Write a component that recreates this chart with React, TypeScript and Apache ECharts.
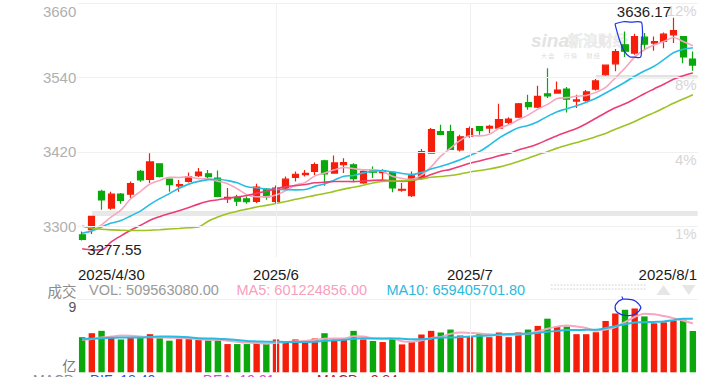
import React, { useEffect, useRef } from 'react';
import * as echarts from 'echarts';

const dates = ['2025/4/30','2025/5/6','2025/5/7','2025/5/8','2025/5/9','2025/5/12','2025/5/13','2025/5/14','2025/5/15','2025/5/16','2025/5/19','2025/5/20','2025/5/21','2025/5/22','2025/5/23','2025/5/26','2025/5/27','2025/5/28','2025/5/29','2025/5/30','2025/6/3','2025/6/4','2025/6/5','2025/6/6','2025/6/9','2025/6/10','2025/6/11','2025/6/12','2025/6/13','2025/6/16','2025/6/17','2025/6/18','2025/6/19','2025/6/20','2025/6/23','2025/6/24','2025/6/25','2025/6/26','2025/6/27','2025/6/30','2025/7/1','2025/7/2','2025/7/3','2025/7/4','2025/7/7','2025/7/8','2025/7/9','2025/7/10','2025/7/11','2025/7/14','2025/7/15','2025/7/16','2025/7/17','2025/7/18','2025/7/21','2025/7/22','2025/7/23','2025/7/24','2025/7/25','2025/7/28','2025/7/29','2025/7/30','2025/7/31','2025/8/1'];

const opens = [3286.6, 3294.7, 3356.4, 3329.6, 3352.2, 3352.0, 3388.6, 3376.0, 3401.0, 3376.4, 3365.5, 3372.5, 3381.7, 3384.9, 3378.0, 3344.5, 3347.3, 3344.6, 3340.3, 3360.2, 3340.3, 3361.9, 3379.0, 3383.6, 3388.6, 3405.8, 3386.0, 3399.4, 3399.4, 3370.0, 3389.5, 3386.8, 3387.0, 3358.5, 3349.5, 3378.0, 3418.2, 3453.0, 3453.0, 3423.5, 3445.0, 3461.0, 3458.5, 3458.5, 3467.5, 3476.2, 3499.7, 3492.3, 3513.8, 3514.9, 3521.3, 3502.0, 3503.0, 3521.3, 3544.4, 3562.0, 3592.7, 3579.3, 3605.0, 3595.4, 3598.0, 3608.8, 3606.0, 3569.6];
const closes = [3279.0, 3316.1, 3342.7, 3352.0, 3342.0, 3369.2, 3374.9, 3404.0, 3380.8, 3367.5, 3367.6, 3380.5, 3387.6, 3380.2, 3348.4, 3346.8, 3340.7, 3339.9, 3363.5, 3347.5, 3362.0, 3376.2, 3384.1, 3385.4, 3399.8, 3384.8, 3402.3, 3402.7, 3377.0, 3388.8, 3387.4, 3388.8, 3362.1, 3359.9, 3381.6, 3420.6, 3456.0, 3448.5, 3424.2, 3444.4, 3457.8, 3454.8, 3461.2, 3472.3, 3473.1, 3497.5, 3493.1, 3509.7, 3510.2, 3519.7, 3505.0, 3503.8, 3516.8, 3534.5, 3559.8, 3581.9, 3582.3, 3605.7, 3593.7, 3597.9, 3609.7, 3615.7, 3573.2, 3560.0];
const lows = [3277.55, 3288.0, 3327.0, 3327.0, 3336.6, 3346.0, 3372.0, 3370.0, 3379.0, 3356.0, 3356.0, 3371.0, 3379.6, 3378.0, 3347.0, 3337.7, 3333.0, 3336.6, 3337.7, 3343.0, 3337.7, 3359.0, 3372.5, 3380.5, 3383.0, 3365.5, 3385.0, 3386.0, 3372.5, 3368.8, 3378.0, 3375.0, 3355.0, 3356.0, 3347.3, 3375.0, 3418.0, 3447.0, 3423.5, 3420.8, 3443.0, 3447.7, 3450.5, 3458.0, 3463.8, 3474.6, 3488.0, 3490.7, 3506.8, 3513.8, 3483.6, 3490.7, 3501.0, 3519.0, 3542.7, 3550.0, 3572.9, 3576.6, 3584.6, 3583.0, 3587.0, 3595.4, 3563.0, 3551.0];
const highs = [3292.0, 3317.0, 3359.0, 3356.0, 3354.0, 3372.5, 3391.0, 3418.0, 3402.0, 3377.0, 3375.0, 3387.0, 3394.0, 3391.0, 3390.0, 3362.0, 3351.0, 3348.3, 3368.8, 3362.0, 3366.0, 3380.5, 3388.6, 3391.0, 3403.0, 3407.4, 3414.4, 3410.0, 3402.0, 3391.0, 3396.6, 3392.0, 3388.6, 3370.0, 3388.6, 3424.7, 3458.5, 3463.8, 3463.8, 3447.7, 3461.0, 3462.0, 3463.8, 3497.6, 3476.0, 3498.8, 3512.0, 3526.6, 3555.0, 3533.6, 3524.5, 3512.0, 3520.0, 3537.4, 3560.5, 3585.7, 3614.0, 3610.4, 3611.5, 3606.0, 3612.5, 3636.17, 3607.0, 3581.9];

const ma5 = [3289.3, 3293.1, 3302.6, 3315.3, 3326.4, 3344.4, 3356.2, 3368.4, 3374.2, 3379.3, 3379.0, 3380.1, 3376.8, 3376.7, 3372.9, 3368.7, 3360.7, 3351.2, 3347.9, 3347.7, 3350.7, 3357.8, 3366.7, 3371.0, 3381.5, 3386.1, 3391.3, 3395.0, 3393.3, 3391.1, 3391.6, 3388.9, 3380.8, 3377.4, 3376.0, 3382.6, 3396.0, 3413.3, 3426.2, 3438.7, 3446.2, 3445.9, 3448.5, 3458.1, 3463.8, 3471.8, 3479.4, 3489.1, 3496.7, 3506.0, 3507.5, 3509.7, 3511.1, 3516.0, 3524.0, 3539.4, 3555.1, 3572.8, 3584.7, 3592.3, 3597.9, 3604.5, 3598.0, 3591.3];
const ma10 = [3289.1, 3292.7, 3299.3, 3305.4, 3309.6, 3316.9, 3324.7, 3335.5, 3344.8, 3352.9, 3361.7, 3368.2, 3372.6, 3375.5, 3376.1, 3373.9, 3370.4, 3364.0, 3362.3, 3360.3, 3359.7, 3359.3, 3359.0, 3359.5, 3364.6, 3368.4, 3374.6, 3380.9, 3382.2, 3386.3, 3388.9, 3390.1, 3387.9, 3385.4, 3383.6, 3387.1, 3392.5, 3397.1, 3401.8, 3407.4, 3414.4, 3421.0, 3430.9, 3442.2, 3451.3, 3459.0, 3462.7, 3468.8, 3477.4, 3484.9, 3489.7, 3494.6, 3500.1, 3506.4, 3515.0, 3523.5, 3532.4, 3542.0, 3550.4, 3558.2, 3568.7, 3579.8, 3585.4, 3588.0];
const ma20 = [3264.0, 3262.3, 3262.3, 3275.1, 3284.9, 3294.0, 3301.6, 3309.9, 3315.8, 3320.8, 3325.4, 3330.5, 3336.0, 3340.5, 3342.9, 3345.4, 3347.6, 3349.8, 3353.6, 3356.6, 3360.7, 3363.8, 3365.8, 3367.5, 3370.4, 3371.2, 3372.5, 3372.5, 3372.3, 3373.3, 3374.3, 3374.7, 3373.5, 3372.5, 3374.1, 3377.8, 3383.6, 3389.0, 3392.0, 3396.9, 3401.7, 3405.6, 3409.4, 3413.8, 3417.5, 3423.1, 3427.6, 3433.0, 3439.6, 3446.2, 3452.1, 3457.8, 3465.5, 3474.3, 3483.2, 3491.3, 3497.6, 3505.4, 3513.9, 3521.6, 3529.2, 3537.2, 3542.8, 3547.2];
const ma30 = [3300.5, 3297.5, 3295.5, 3294.5, 3294.0, 3293.6, 3293.6, 3294.0, 3294.8, 3295.8, 3296.8, 3298.0, 3299.0, 3308.5, 3315.3, 3320.6, 3324.5, 3327.9, 3331.3, 3334.0, 3336.9, 3340.1, 3343.7, 3346.8, 3350.1, 3353.0, 3356.5, 3360.1, 3363.1, 3366.5, 3370.1, 3372.5, 3373.2, 3373.4, 3374.7, 3376.5, 3379.2, 3380.6, 3382.1, 3384.6, 3387.7, 3390.1, 3392.6, 3395.6, 3399.8, 3404.8, 3409.9, 3415.5, 3420.4, 3426.2, 3430.9, 3435.2, 3439.6, 3444.6, 3449.9, 3456.5, 3462.5, 3469.2, 3476.5, 3483.4, 3490.8, 3498.4, 3505.4, 3512.1];

// volume in 亿 (1e8)
const volumes = [4.33, 4.82, 5.11, 4.33, 4.05, 4.25, 4.29, 4.70, 4.21, 3.90, 4.09, 4.09, 4.02, 3.94, 3.94, 3.48, 3.48, 3.48, 3.65, 3.57, 4.05, 3.77, 4.05, 3.86, 4.17, 4.82, 4.02, 4.02, 5.11, 4.05, 3.86, 3.73, 4.13, 3.44, 3.73, 4.66, 5.11, 4.91, 5.27, 4.54, 4.42, 4.82, 4.33, 4.91, 4.33, 4.91, 5.27, 5.72, 6.61, 5.64, 5.64, 4.70, 4.70, 4.94, 6.33, 7.25, 7.71, 7.87, 6.89, 6.04, 6.16, 6.37, 6.48, 5.0956308];
const volMa5 = [4.0, 4.1, 4.3, 4.4, 4.53, 4.51, 4.41, 4.32, 4.30, 4.27, 4.24, 4.20, 4.06, 4.01, 4.02, 3.89, 3.77, 3.66, 3.61, 3.53, 3.65, 3.70, 3.82, 3.86, 3.98, 4.13, 4.18, 4.18, 4.43, 4.40, 4.21, 4.15, 4.18, 3.84, 3.78, 3.94, 4.21, 4.37, 4.74, 4.90, 4.85, 4.79, 4.68, 4.60, 4.56, 4.66, 4.75, 5.03, 5.37, 5.63, 5.78, 5.66, 5.46, 5.12, 5.26, 5.58, 6.19, 6.82, 7.21, 7.15, 6.93, 6.67, 6.39, 6.01224856];
const volMa10 = [4.1, 4.15, 4.2, 4.25, 4.3, 4.3, 4.3, 4.35, 4.4, 4.40, 4.38, 4.31, 4.19, 4.16, 4.15, 4.07, 3.99, 3.86, 3.81, 3.78, 3.77, 3.74, 3.74, 3.74, 3.76, 3.89, 3.94, 4.00, 4.15, 4.19, 4.17, 4.17, 4.18, 4.14, 4.09, 4.08, 4.18, 4.28, 4.29, 4.34, 4.40, 4.50, 4.53, 4.67, 4.73, 4.76, 4.77, 4.86, 4.99, 5.10, 5.22, 5.21, 5.25, 5.25, 5.45, 5.68, 5.93, 6.14, 6.17, 6.21, 6.26, 6.43, 6.61, 6.594057018];

const priceTicks = [3300, 3420, 3540, 3660];
const volTicks = [0, 9];
const xTickIdx = [0, 20, 40, 63];
const xTickText = ['2025/4/30', '2025/6', '2025/7', '2025/8/1'];
const splitIdx = [20, 40];
const markBands = [3321, 3541];
const markBandStart = [1, 53];
const macdNames = ['MACD', 'DIF: 18.40', 'DEA: 19.31', 'MACD: -2.84'];

const UP = '#f51e0a';
const DOWN = '#0aa80c';
const FONT = '"Liberation Sans", Arial, Helvetica, sans-serif';
const CJK = '"Noto Sans CJK SC", "Liberation Sans", sans-serif';

const GRID_LEFT = 77.3;
const GRID_W = 620.4;
const W = 717;

export default function App() {
  const ref = useRef<HTMLDivElement>(null);
  useEffect(() => {
    const chart = echarts.init(ref.current!, null, { renderer: 'svg' });
    const ctx = document.createElement('canvas').getContext('2d')!;
    ctx.font = `15px ${FONT}`;
    const tw = (s: string) => ctx.measureText(s).width;
    const band = GRID_W / dates.length;
    const c0 = GRID_LEFT + band / 2;
    const cN = GRID_LEFT + GRID_W - band / 2;
    const padL = tw(xTickText[0]) - 2 * (c0 - 78);
    const padR = tw(xTickText[3]) - 2 * (697 - cN);

    const base = Math.min(...lows);
    const top = Math.max(...highs);
    const pct = (v: number) => Math.round((v / base - 1) * 100) + '%';

    const lineS = (name: string, data: number[], color: string, xi: number, width = 1.6) => ({
      name, type: 'line', data, xAxisIndex: xi, yAxisIndex: xi === 0 ? 0 : 2, showSymbol: false, symbol: 'none',
      smooth: 0.3, lineStyle: { color, width }, z: 3, silent: true,
    });

    const option: any = {
      animation: false,
      backgroundColor: '#fff',
      grid: [
        { left: GRID_LEFT, width: GRID_W, top: 3, height: 254.5, containLabel: false, outerBoundsMode: 'none' },
        { left: GRID_LEFT, width: GRID_W, top: 299.3, height: 73, containLabel: false, outerBoundsMode: 'none' },
      ],
      xAxis: [
        {
          type: 'category', gridIndex: 0, data: dates, boundaryGap: true,
          axisLine: { show: false }, axisTick: { show: false }, splitLine: { show: false },
          axisLabel: {
            show: true, margin: 9, interval: (i: number) => xTickIdx.includes(i),
            formatter: (_v: string, i: number) => {
              const k = xTickIdx.indexOf(i);
              if (k < 0) return '';
              if (k === 0) return '{l|' + xTickText[k] + '}';
              if (k === xTickIdx.length - 1) return '{r|' + xTickText[k] + '}';
              return '{c|' + xTickText[k] + '}';
            },
            rich: {
              l: { fontSize: 15, fontFamily: FONT, color: '#1a1a1a', padding: [0, 0, 0, padL] },
              r: { fontSize: 15, fontFamily: FONT, color: '#1a1a1a', padding: [0, padR, 0, 0] },
              c: { fontSize: 15, fontFamily: FONT, color: '#1a1a1a' },
            },
          },
        },
        {
          type: 'category', gridIndex: 1, data: dates, boundaryGap: true,
          axisLine: { show: false }, axisTick: { show: false }, splitLine: { show: false }, axisLabel: { show: false },
        },
      ],
      yAxis: [
        {
          type: 'value', gridIndex: 0, min: 3250, max: 3660, position: 'left',
          axisLine: { show: false }, axisTick: { show: false }, splitLine: { show: false },
          axisLabel: {
            customValues: priceTicks, margin: 1,
            formatter: (v: number) => (v === priceTicks[priceTicks.length - 1] ? '{t|' + v + '}' : '{n|' + v + '}'),
            rich: {
              t: { fontSize: 15, fontFamily: FONT, color: '#b0b0b0', padding: [17, 0, 0, 0] },
              n: { fontSize: 15, fontFamily: FONT, color: '#b0b0b0' },
            },
          },
        },
        {
          type: 'value', gridIndex: 0, min: 3250, max: 3660, position: 'right',
          axisLine: { show: false }, axisTick: { show: false }, splitLine: { show: false },
          axisLabel: {
            customValues: priceTicks, inside: true, margin: 1,
            formatter: (v: number) => '{p|' + pct(v) + '}',
            rich: { p: { fontSize: 15, fontFamily: FONT, color: '#d6d6d6', padding: [15, 0, 0, 0] } },
          },
        },
        {
          type: 'value', gridIndex: 1, min: 0, max: 9, position: 'left',
          axisLine: { show: false }, axisTick: { show: false }, splitLine: { show: false },
          axisLabel: {
            customValues: volTicks, margin: 1,
            formatter: (v: number) => (v === volTicks[1] ? '{t|' + v + '}' : '{b|亿}'),
            rich: {
              t: { fontSize: 14, fontFamily: FONT, color: '#555', padding: [16, 0, 0, 0] },
              b: { fontSize: 14, fontFamily: CJK, color: '#777', padding: [0, 0, 14, 0] },
            },
          },
        },
      ],
      series: [
        {
          type: 'line', data: [], xAxisIndex: 0, yAxisIndex: 0, z: 0, silent: true,
          markLine: {
            silent: true, symbol: 'none', label: { show: false }, animation: false,
            lineStyle: { color: '#f0f0f0', width: 1, type: 'solid' },
            emphasis: { disabled: true },
            data: [
              ...priceTicks.map((v) => ({ yAxis: v })),
              ...splitIdx.map((i) => ({ xAxis: dates[i] })),
            ],
          },
        },
        {
          type: 'line', data: [], xAxisIndex: 1, yAxisIndex: 2, z: 0, silent: true,
          markLine: {
            silent: true, symbol: 'none', label: { show: false }, animation: false,
            lineStyle: { color: '#f0f0f0', width: 1, type: 'solid' },
            emphasis: { disabled: true },
            data: [{ yAxis: volTicks[1] }, ...splitIdx.map((i) => ({ xAxis: dates[i] }))],
          },
        },
        {
          type: 'candlestick', xAxisIndex: 0, yAxisIndex: 0, barWidth: 6.6, z: 2, silent: true,
          data: dates.map((_, i) => [opens[i], closes[i], lows[i], highs[i]]),
          itemStyle: { color: UP, color0: DOWN, borderColor: UP, borderColor0: DOWN, borderWidth: 1.2 },
        },
        lineS('MA5', ma5, '#f7a6bf', 0),
        lineS('MA10', ma10, '#27bde3', 0),
        lineS('MA20', ma20, '#eb3e76', 0),
        lineS('MA30', ma30, '#9cc321', 0),
        {
          type: 'bar', xAxisIndex: 1, yAxisIndex: 2, barWidth: 6.4, z: 2, silent: true,
          data: volumes.map((v, i) => ({ value: v, itemStyle: { color: closes[i] >= opens[i] ? UP : DOWN } })),
        },
        lineS('VMA5', volMa5, '#f5a8c0', 1, 2),
        lineS('VMA10', volMa10, '#27bde3', 1, 2),
      ],
    };
    chart.setOption(option);

    const p = (i: number, v: number) => chart.convertToPixel({ xAxisIndex: 0, yAxisIndex: 0 }, [dates[i], v]) as number[];
    const pv = (i: number, v: number) => chart.convertToPixel({ xAxisIndex: 1, yAxisIndex: 2 }, [dates[i], v]) as number[];
    const rightEdge = GRID_LEFT + GRID_W;
    const hiIdx = highs.indexOf(top);
    const loIdx = lows.indexOf(base);
    const hp = p(hiIdx, top);
    const lp = p(loIdx, base);

    const g: any[] = [];
    // marker bands
    markBands.forEach((v, k) => {
      const a = p(markBandStart[k], v);
      const h = k === 0 ? 5 : 3.5;
      g.push({ type: 'rect', z: 1, silent: true, shape: { x: a[0], y: a[1] - h / 2, width: rightEdge - a[0], height: h }, style: { fill: k === 0 ? '#e8e8e8' : '#e2e2e2' } });
    });
    // watermark
    g.push({ type: 'text', z: 1, silent: true, x: 531, y: 40, style: { text: 'sina', fill: '#e3e3e3', font: `italic bold 19px ${FONT}`, textVerticalAlign: 'middle', verticalAlign: 'middle' } });
    g.push({ type: 'text', z: 1, silent: true, x: 568, y: 39, style: { text: '新浪财经', fill: '#efefef', stroke: '#dadada', lineWidth: 0.6, font: `15px ${CJK}`, textVerticalAlign: 'middle', verticalAlign: 'middle' } });
    g.push({ type: 'text', z: 1, silent: true, x: 541, y: 55, style: { text: '大 盘       行 情       财 经', fill: '#dddddd', font: `6px ${CJK}`, textVerticalAlign: 'middle', verticalAlign: 'middle' } });
    // extreme labels
    g.push({ type: 'text', z: 10, silent: true, x: hp[0] - 2.4, y: hp[1] - 5.8, style: { text: top.toFixed(2), fill: '#222', font: `15px ${FONT}`, textAlign: 'right', align: 'right', textVerticalAlign: 'middle', verticalAlign: 'middle' } });
    g.push({ type: 'text', z: 10, silent: true, x: lp[0] + 5.2, y: lp[1] + 8.7, style: { text: base.toFixed(2), fill: '#222', font: `15px ${FONT}`, textAlign: 'left', align: 'left', textVerticalAlign: 'middle', verticalAlign: 'middle' } });
    // legend row
    const legendY = 290;
    const legend = [
      { x: 47.5, text: '成交', color: '#8c8c8c', font: `14.5px ${CJK}` },
      { x: 89, text: 'VOL: ' + (volumes[volumes.length - 1] * 1e8).toFixed(2), color: '#9a9a9a', font: `14.5px ${FONT}` },
      { x: 236.5, text: 'MA5: ' + (volMa5[volMa5.length - 1] * 1e8).toFixed(2), color: '#f7a0bb', font: `14.5px ${FONT}` },
      { x: 386.5, text: 'MA10: ' + (volMa10[volMa10.length - 1] * 1e8).toFixed(2), color: '#2bb9de', font: `14.5px ${FONT}` },
    ];
    legend.forEach((l) => g.push({ type: 'text', z: 10, silent: true, x: l.x, y: legendY, style: { text: l.text, fill: l.color, font: l.font, textVerticalAlign: 'middle', verticalAlign: 'middle' } }));
    // dotted control placeholder and arrows
    [285, 289].forEach((y) => g.push({ type: 'line', z: 5, silent: true, shape: { x1: 551, y1: y, x2: 647, y2: y }, style: { stroke: '#dedede', lineWidth: 1.6, lineDash: [1.6, 1.6] } }));
    g.push({ type: 'polygon', z: 5, silent: true, shape: { points: [[663.5, 285], [670.5, 295], [656.5, 295]] }, style: { fill: '#e6e6e6' } });
    g.push({ type: 'polygon', z: 5, silent: true, shape: { points: [[682, 285], [695.5, 285], [688.7, 295]] }, style: { fill: '#e6e6e6' } });
    // MACD row (only top visible)
    const macdX = [33, 90, 203, 317];
    const macdC = ['#8c8c8c', '#2b4df0', '#e03ee0', '#b32020'];
    macdNames.forEach((t, k) => g.push({ type: 'text', z: 10, silent: true, x: macdX[k], y: 373.4, style: { text: t, fill: macdC[k], font: `14px ${FONT}`, textVerticalAlign: 'top', verticalAlign: 'top' } }));
    // hand-drawn blue annotations
    const a1 = p(56, highs[56]);
    const ring1 = [[-9.9, -7.8], [-2, -9.8], [6, -9.5], [16.1, -9.4], [17.3, -4], [17.5, 4], [16.3, 14], [15.6, 25.5], [9, 25.6], [4.6, 25.2], [-0.8, 19.5], [-4.6, 11], [-7.4, 2], [-9.2, -4.5], [-9.9, -7.8]].map(([dx, dy]) => [a1[0] + dx, a1[1] + dy]);
    g.push({ type: 'polyline', z: 20, silent: true, shape: { points: ring1, smooth: 0.35 }, style: { stroke: '#1d33e6', lineWidth: 1.2, fill: null } });
    const a2 = pv(56, volumes[56]);
    const ring2 = [[-3.2, -13.3], [-2.4, -10.8], [-6.5, -8.5], [-9.9, -3.2], [-7.5, 2.7], [1.8, 5.8], [10.1, 4.3], [15.8, -1.8], [13.5, -6], [8.5, -9.6], [1.8, -10.6], [-2.4, -10.9]].map(([dx, dy]) => [a2[0] + dx, a2[1] + dy]);
    g.push({ type: 'polyline', z: 20, silent: true, shape: { points: ring2, smooth: 0.35 }, style: { stroke: '#1d33e6', lineWidth: 1.2, fill: null } });

    chart.setOption({ graphic: g });
    return () => chart.dispose();
  }, []);
  return <div ref={ref} style={{ position: 'fixed', left: 0, top: 0, width: W, height: 377, background: '#fff' }} />;
}
